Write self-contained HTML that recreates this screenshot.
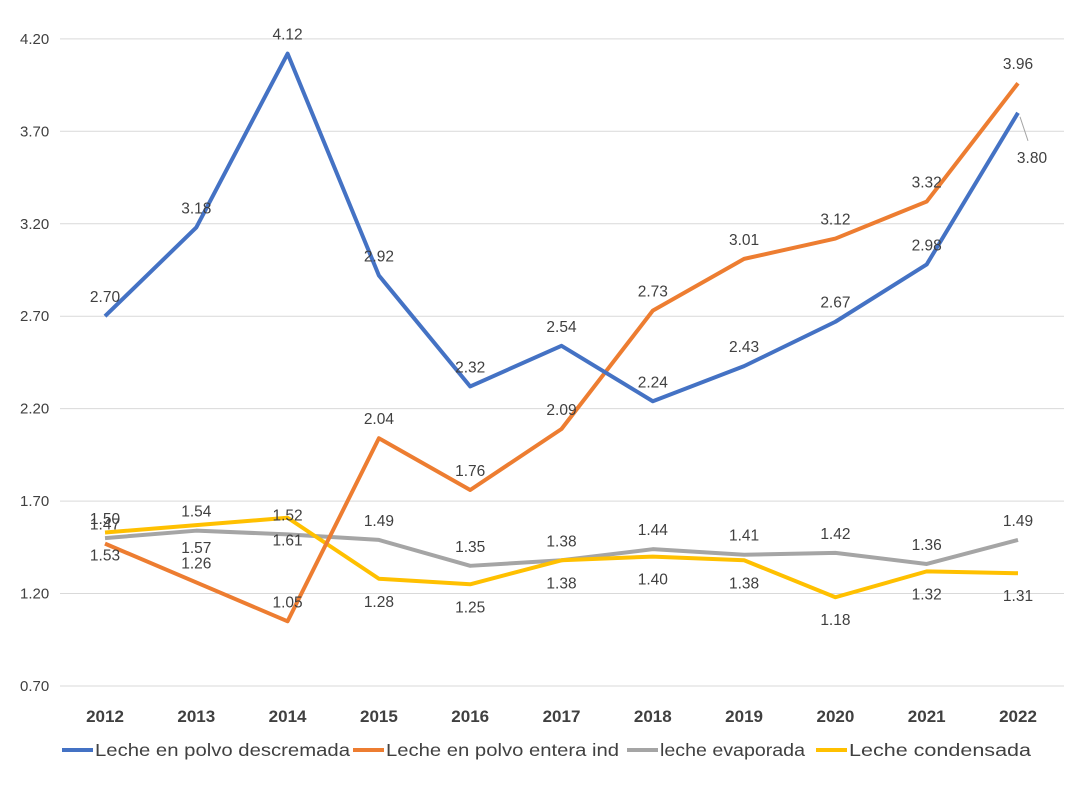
<!DOCTYPE html>
<html><head><meta charset="utf-8"><style>
body{margin:0;background:#fff;}
svg text{font-family:"Liberation Sans",Arial,sans-serif;}
</style></head><body>
<svg id="chart" width="1078" height="782" viewBox="0 0 1078 782" xmlns="http://www.w3.org/2000/svg">
<rect width="1078" height="782" fill="#fff"/>
<g id="grid"></g><g id="axes"></g><g id="series"></g><g id="labels"></g><g id="legend"></g>
</svg>
<script>
const years=["2012","2013","2014","2015","2016","2017","2018","2019","2020","2021","2022"];
const yTicks=[0.70,1.20,1.70,2.20,2.70,3.20,3.70,4.20];
const descremada=[2.70,3.18,4.12,2.92,2.32,2.54,2.24,2.43,2.67,2.98,3.80];
const enteraInd=[1.47,1.26,1.05,2.04,1.76,2.09,2.73,3.01,3.12,3.32,3.96];
const evaporada=[1.50,1.54,1.52,1.49,1.35,1.38,1.44,1.41,1.42,1.36,1.49];
const condensada=[1.53,1.57,1.61,1.28,1.25,1.38,1.40,1.38,1.18,1.32,1.31];
const seriesNames=["Leche en polvo descremada","Leche en polvo entera ind","leche evaporada","Leche condensada"];
const NS="http://www.w3.org/2000/svg";
function x(i){return 105+i*91.3;}
function y(v){return 686-(v-0.7)*184.9;}
function mk(tag,attrs,parent,text){const e=document.createElementNS(NS,tag);for(const k in attrs)e.setAttribute(k,attrs[k]);if(text!==undefined)e.textContent=text;parent.appendChild(e);return e;}
const grid=document.getElementById('grid'),axes=document.getElementById('axes'),ser=document.getElementById('series'),lab=document.getElementById('labels'),leg=document.getElementById('legend');
yTicks.forEach(t=>{
 const l=mk('line',{x1:60,x2:1064,y1:y(t),y2:y(t),stroke:'#d9d9d9','stroke-width':1},grid);
 
 
 const tx=mk('text',{x:20,y:y(t)+5,'font-size':15,fill:'#404040'},axes,t.toFixed(2));
 
 
});
years.forEach((yr,i)=>{
 const tx=mk('text',{x:x(i),y:722,'font-size':17,'font-weight':'bold','text-anchor':'middle',fill:'#404040'},axes,yr);
 
 
});
const all=[descremada,enteraInd,evaporada,condensada];
const colors=["#4472c4","#ed7d31","#a5a5a5","#ffc000"];
const keys=["descremada","entera-ind","evaporada","condensada"];
const order=[2,3,1,0];
order.forEach(s=>{
 const d=all[s].map((v,i)=>(i?'L':'M')+x(i)+','+y(v)).join(' ');
 const p=mk('path',{d:d,fill:'none',stroke:colors[s],'stroke-width':4,'stroke-linejoin':'round'},ser);
 
 
});
all.forEach((arr,s)=>{
 arr.forEach((v,i)=>{
  let lx=x(i),ly=y(v)-14;
  if(s===3) ly=y(v)+28;
  if(s===0&&i===arr.length-1){lx=x(i)+14;ly=y(v)+50;
   const ll=mk('line',{x1:x(i)+2,y1:y(v)+4,x2:x(i)+10,y2:y(v)+28,stroke:'#a5a5a5','stroke-width':1},lab);
   
   }
  const t=mk('text',{x:lx,y:ly,'font-size':15.5,'text-anchor':'middle',fill:'#404040'},lab,v.toFixed(2));
  
  
 });
});
const legX=[62,353,627,816];
const legW=[255,233,145,182];
seriesNames.forEach((n,s)=>{
 const g=mk('g',{},leg);
 
 
 mk('line',{x1:legX[s],x2:legX[s]+31,y1:750,y2:750,stroke:colors[s],'stroke-width':4},g);
 mk('text',{x:legX[s]+33,y:756,'font-size':17.5,fill:'#404040',textLength:legW[s],lengthAdjust:'spacingAndGlyphs'},g,n);
});
</script>
</body></html>
